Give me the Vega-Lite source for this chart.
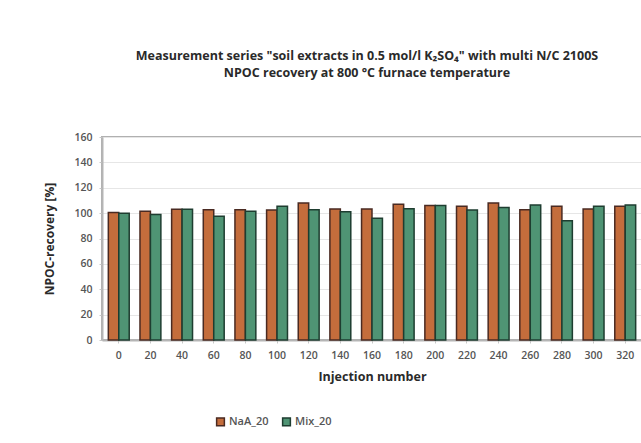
{
  "$schema": "https://vega.github.io/schema/vega-lite/v6.json",
  "autosize": "none",
  "width": 540,
  "height": 203,
  "padding": {"left": 102, "top": 137, "right": 0, "bottom": 103},
  "background": "white",
  "title": {
    "text": ["Measurement series \"soil extracts in 0.5 mol/l K₂SO₄\" with multi  N/C 2100S", "NPOC recovery at 800 °C furnace temperature"],
    "font": "Open Sans",
    "fontSize": 12.5,
    "fontWeight": "bold",
    "color": "#2a2a2a",
    "lineHeight": 17,
    "anchor": "middle",
    "dx": -5,
    "offset": 53
  },
  "data": {
    "values": [
      {"injection": 0, "series": "NaA_20", "value": 100.5},
      {"injection": 0, "series": "Mix_20", "value": 100},
      {"injection": 20, "series": "NaA_20", "value": 101.4},
      {"injection": 20, "series": "Mix_20", "value": 99},
      {"injection": 40, "series": "NaA_20", "value": 103},
      {"injection": 40, "series": "Mix_20", "value": 103},
      {"injection": 60, "series": "NaA_20", "value": 102.7},
      {"injection": 60, "series": "Mix_20", "value": 97.5},
      {"injection": 80, "series": "NaA_20", "value": 102.7},
      {"injection": 80, "series": "Mix_20", "value": 101.5},
      {"injection": 100, "series": "NaA_20", "value": 102.5},
      {"injection": 100, "series": "Mix_20", "value": 105.5},
      {"injection": 120, "series": "NaA_20", "value": 108},
      {"injection": 120, "series": "Mix_20", "value": 102.7},
      {"injection": 140, "series": "NaA_20", "value": 103.3},
      {"injection": 140, "series": "Mix_20", "value": 101},
      {"injection": 160, "series": "NaA_20", "value": 103.3},
      {"injection": 160, "series": "Mix_20", "value": 96},
      {"injection": 180, "series": "NaA_20", "value": 107},
      {"injection": 180, "series": "Mix_20", "value": 103.5},
      {"injection": 200, "series": "NaA_20", "value": 106},
      {"injection": 200, "series": "Mix_20", "value": 106},
      {"injection": 220, "series": "NaA_20", "value": 105.5},
      {"injection": 220, "series": "Mix_20", "value": 102.5},
      {"injection": 240, "series": "NaA_20", "value": 108},
      {"injection": 240, "series": "Mix_20", "value": 104.5},
      {"injection": 260, "series": "NaA_20", "value": 102.7},
      {"injection": 260, "series": "Mix_20", "value": 106.5},
      {"injection": 280, "series": "NaA_20", "value": 105.4},
      {"injection": 280, "series": "Mix_20", "value": 94},
      {"injection": 300, "series": "NaA_20", "value": 103.3},
      {"injection": 300, "series": "Mix_20", "value": 105.5},
      {"injection": 320, "series": "NaA_20", "value": 105.5},
      {"injection": 320, "series": "Mix_20", "value": 106.5}
    ]
  },
  "mark": {"type": "bar", "strokeWidth": 1.5},
  "encoding": {
    "x": {
      "field": "injection",
      "type": "ordinal",
      "scale": {"paddingInner": 0.34, "paddingOuter": 0.2},
      "axis": {
        "title": "Injection number",
        "labelAngle": 0,
        "labelFont": "Open Sans",
        "labelFontSize": 10.5,
        "labelFontWeight": 600,
        "labelColor": "#555555",
        "labelPadding": 7,
        "titleFont": "Open Sans",
        "titleFontSize": 12.5,
        "titleFontWeight": "bold",
        "titleColor": "#2a2a2a",
        "titlePadding": 10,
        "domainColor": "#b5b5b5",
        "domainWidth": 2,
        "tickColor": "#c8c8c8",
        "ticks": true,
        "tickSize": 3
      }
    },
    "xOffset": {"field": "series", "type": "nominal", "sort": ["NaA_20", "Mix_20"]},
    "y": {
      "field": "value",
      "type": "quantitative",
      "scale": {"domain": [0, 160]},
      "axis": {
        "title": "NPOC-recovery [%]",
        "values": [0, 20, 40, 60, 80, 100, 120, 140, 160],
        "labelFont": "Open Sans",
        "labelFontSize": 10.5,
        "labelFontWeight": 600,
        "labelColor": "#555555",
        "labelPadding": 7,
        "titleFont": "Open Sans",
        "titleFontSize": 12,
        "titleFontWeight": "bold",
        "titleColor": "#2a2a2a",
        "titlePadding": 17,
        "domainColor": "#b5b5b5",
        "domainWidth": 2,
        "gridColor": "#e6e6e6",
        "tickColor": "#c8c8c8",
        "tickSize": 3
      }
    },
    "fill": {
      "field": "series",
      "type": "nominal",
      "scale": {"domain": ["NaA_20", "Mix_20"], "range": ["#c46d3c", "#4f9474"]},
      "legend": {
        "title": null,
        "orient": "none",
        "legendX": 113,
        "legendY": 279,
        "direction": "horizontal",
        "symbolType": "square",
        "symbolSize": 60,
        "symbolStrokeWidth": 1.5,
        "labelFont": "Open Sans",
        "labelFontSize": 11,
        "labelFontWeight": 600,
        "labelColor": "#555555",
        "labelOffset": 3,
        "columnPadding": 10
      }
    },
    "stroke": {
      "field": "series",
      "type": "nominal",
      "scale": {"domain": ["NaA_20", "Mix_20"], "range": ["#4a2a22", "#1e3d30"]},
      "legend": null
    }
  },
  "config": {
    "view": {"stroke": "#b0b0b0", "strokeWidth": 2}
  }
}
